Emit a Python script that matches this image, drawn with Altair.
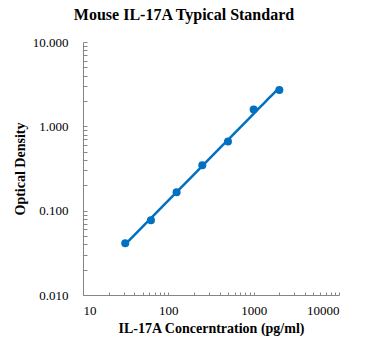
import altair as alt
import pandas as pd

conc = [31.25, 62.5, 125, 250, 500, 1000, 2000]
od = [0.0412, 0.0768, 0.165, 0.346, 0.662, 1.58, 2.70]

x_major = [10, 100, 1000, 10000]
y_major = [0.01, 0.1, 1, 10]
x_minor = [10, 20, 30, 40, 50, 60, 70, 80, 90,
           100, 200, 300, 400, 500, 600, 700, 800, 900,
           1000, 2000, 3000, 4000, 5000, 6000, 7000, 8000, 9000, 10000]
y_minor = [0.01, 0.02, 0.03, 0.04, 0.05, 0.06, 0.07, 0.08, 0.09,
           0.1, 0.2, 0.3, 0.4, 0.5, 0.6, 0.7, 0.8, 0.9,
           1, 2, 3, 4, 5, 6, 7, 8, 9, 10]

df = pd.DataFrame({"conc": conc, "od": od})

W, H = 256, 253
BLUE = "#0070C0"
FONT = "Liberation Serif"
GRAY = "#868686"

xscale = alt.Scale(type="log", domain=[10, 10000], nice=False)
yscale = alt.Scale(type="log", domain=[0.01, 10], nice=False)

base = alt.Chart(df)

line = base.transform_regression(
    "conc", "od", method="pow", extent=[31.25, 2000]
).mark_line(color=BLUE, strokeWidth=2.5).encode(
    x=alt.X("conc:Q", scale=xscale,
            axis=alt.Axis(orient="bottom", values=x_major, format="d",
                          ticks=False, grid=False, domainColor=GRAY,
                          labelPadding=9, labelFont=FONT, labelFontSize=13,
                          labelColor="black",
                          title="IL-17A Concerntration (pg/ml)",
                          titleFont=FONT, titleFontSize=14, titleFontWeight="bold",
                          titleColor="black", titlePadding=4)),
    y=alt.Y("od:Q", scale=yscale,
            axis=alt.Axis(orient="left", values=y_major, format=".3f",
                          ticks=False, grid=False, domainColor=GRAY,
                          labelPadding=15, labelFont=FONT, labelFontSize=13,
                          labelColor="black",
                          title="Optical Density",
                          titleFont=FONT, titleFontSize=14, titleFontWeight="bold",
                          titleColor="black", titlePadding=5)),
)

points = base.mark_point(filled=True, color=BLUE, size=64, opacity=1).encode(
    x=alt.X("conc:Q", scale=xscale,
            axis=alt.Axis(orient="top", offset=-H, values=x_minor, labels=False,
                          domain=False, grid=False, ticks=True, tickSize=3,
                          tickColor=GRAY, title=None)),
    y=alt.Y("od:Q", scale=yscale,
            axis=alt.Axis(orient="right", offset=-W, values=y_minor, labels=False,
                          domain=False, grid=False, ticks=True, tickSize=4,
                          tickColor=GRAY, title=None)),
)

chart = alt.layer(line, points).resolve_axis(x="independent", y="independent").properties(
    width=W, height=H,
    autosize=alt.AutoSizeParams(type="none"),
    padding={"left": 83, "top": 42, "right": 30, "bottom": 57},
    title=alt.TitleParams("Mouse IL-17A Typical Standard", font=FONT, fontSize=16,
                          fontWeight="bold", color="black", anchor="middle",
                          dx=-27, offset=13),
).configure_view(stroke=None)

chart.save("out.html", embed_options={"renderer": "svg", "actions": False})
